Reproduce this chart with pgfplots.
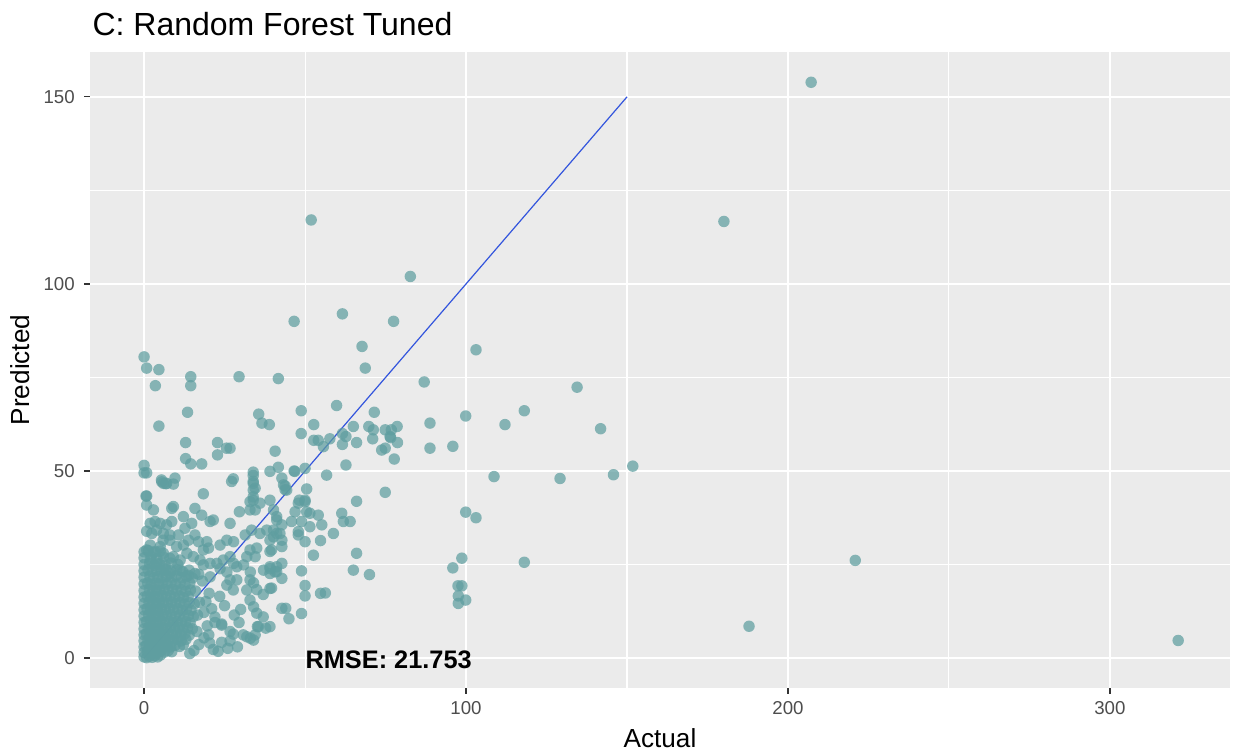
\documentclass[border=0pt]{standalone}
\usepackage{fontspec}
\setmainfont{Liberation Sans}
\usepackage{pgfplots}
\pgfplotsset{compat=1.18}
\definecolor{panelgray}{HTML}{EBEBEB}
\definecolor{cadet}{HTML}{5F9EA0}
\definecolor{labelgray}{HTML}{4D4D4D}
\definecolor{tickgray}{HTML}{333333}
\definecolor{refblue}{HTML}{3355DD}

\begin{document}
\begin{tikzpicture}
\path[use as bounding box] (0,0) rectangle (462.375pt,282.75pt);
\begin{axis}[
  at={(33.75pt,24.75pt)}, anchor=south west,
  scale only axis, width=427.5pt, height=238.5pt,
  xmin=-16.8, xmax=337.3, ymin=-8.0, ymax=162.0,
  xtick={0,100,200,300}, ytick={0,50,100,150},
  minor xtick={50,150,250}, minor ytick={25,75,125},
  grid=both,
  major grid style={white, line width=0.8pt},
  minor grid style={white, line width=0.4pt},
  axis lines*=left,
  axis line style={draw=none},
  axis background/.style={fill=panelgray},
  tick align=outside, major tick length=2.2pt, minor tick length=0pt,
  tick style={color=tickgray, line width=0.45pt},
  ticklabel style={font=\fontsize{7}{8}\selectfont, text=labelgray},
  xticklabel style={yshift=0.8pt},
  /pgf/number format/assume math mode=true,
]
% actual vs predicted
\addplot[only marks, color=cadet, mark=*, mark size=2.15pt,
  mark options={fill=cadet, fill opacity=0.72, draw opacity=0}] table {
x y
0 0.3
0.8 0.1
1.6 0.5
2.5 0.2
3.3 0.6
4.2 0.3
5.1 0.8
0 1.5
1.0 1.8
2.0 1.3
3.0 1.7
4.0 1.4
5.2 1.9
6.3 1.6
7.5 2.0
8.6 1.7
0 3.0
0.6 3.3
1.5 2.8
2.6 3.2
3.6 2.9
4.8 3.4
5.9 3.1
7.1 3.5
8.3 3.0
9.6 3.4
11.0 3.1
12.2 3.6
0 4.6
1.2 4.9
2.2 4.4
3.3 4.8
4.3 4.5
5.5 4.9
6.7 4.6
7.8 5.0
9.0 4.7
10.3 5.1
11.5 4.6
13.0 5.0
0 6.2
0.7 6.5
1.8 6.0
2.9 6.4
4.0 6.1
5.1 6.6
6.3 6.2
7.5 6.7
8.8 6.3
10.0 6.6
11.4 6.2
12.7 6.5
14.0 6.1
0 7.8
1.3 8.1
2.4 7.6
3.5 8.0
4.6 7.7
5.8 8.2
7.0 7.8
8.2 8.3
9.5 7.9
10.8 8.2
12.1 7.7
13.5 8.1
15.0 7.8
0 9.5
0.8 9.8
1.9 9.3
3.0 9.7
4.1 9.4
5.3 9.9
6.5 9.5
7.7 9.9
9.0 9.4
10.3 9.8
11.6 9.3
12.9 9.7
14.3 9.4
0 11.2
1.4 11.5
2.5 11.0
3.6 11.4
4.7 11.1
5.9 11.6
7.1 11.2
8.4 11.6
9.7 11.1
11.0 11.5
12.4 11.0
13.8 11.4
15.3 11.1
16.6 11.5
0 12.9
0.9 13.2
2.0 12.7
3.1 13.1
4.2 12.8
5.4 13.3
6.6 12.9
7.9 13.3
9.1 12.8
10.5 13.2
11.9 12.7
13.2 13.1
14.6 12.8
0 14.6
1.5 14.9
2.6 14.4
3.7 14.8
4.8 14.5
6.0 15.0
7.2 14.6
8.5 15.0
9.8 14.5
11.1 14.9
12.5 14.4
14.0 14.8
15.6 14.5
17.2 14.9
0 16.3
1.0 16.6
2.1 16.1
3.2 16.5
4.4 16.2
5.6 16.7
6.9 16.3
8.2 16.7
9.5 16.2
10.9 16.6
12.3 16.1
13.7 16.5
0 18.0
1.6 18.3
2.7 17.8
3.8 18.2
5.0 17.9
6.2 18.4
7.5 18.0
8.8 18.4
10.1 17.9
11.5 18.3
12.9 17.8
14.4 18.2
16.0 17.9
0 19.8
1.1 20.1
2.2 19.6
3.4 20.0
4.6 19.7
5.8 20.2
7.1 19.8
8.4 20.2
9.8 19.7
11.2 20.1
12.7 19.6
14.2 20.0
0 21.6
1.8 21.9
3.0 21.4
4.3 21.8
5.6 21.5
7.0 22.0
8.5 21.6
10.0 22.0
11.6 21.5
13.2 21.9
15.0 21.4
0 23.3
1.2 23.6
2.5 23.1
3.9 23.5
5.3 23.2
6.8 23.7
8.3 23.3
10.2 23.6
12.0 23.1
14.0 23.5
0 25.0
1.7 25.3
3.2 24.8
4.8 25.2
6.5 24.9
8.4 25.4
10.5 25.0
0 26.8
2.2 27.1
4.0 26.6
6.0 27.0
8.0 26.7
0 28.4
1.3 28.7
3.0 28.2
5.0 28.6
15.5 2.0
17.0 3.6
18.6 5.4
16.4 7.1
19.6 8.6
20.1 6.2
20.4 4.0
14.2 1.2
22.0 11.0
21.0 13.2
19.2 15.1
18.6 12.2
20.2 17.3
18.1 20.6
17.0 22.4
23.0 1.8
26.0 2.6
24.1 8.8
26.7 7.1
24.1 4.2
26.7 4.6
30.8 6.2
33.0 5.3
34.5 6.2
35.2 8.4
37.8 8.0
24.1 9.1
27.7 6.4
31.9 5.7
34.0 4.8
39.1 8.4
35.5 8.4
42.8 13.3
37.0 11.0
35.0 12.0
34.0 13.7
32.9 15.5
31.9 18.2
27.7 18.2
26.7 20.9
32.9 20.9
39.1 18.6
25.7 19.5
28.8 20.9
34.0 20.1
35.0 18.3
39.6 18.7
37.0 17.0
44.0 13.3
45.0 10.5
48.9 11.9
50.0 19.4
50.0 16.6
54.8 17.3
56.3 17.4
42.8 21.3
39.1 22.6
41.2 23.1
48.9 23.3
65.0 23.5
70.0 22.3
22.0 9.5
21.5 2.3
29.0 3.0
28.0 11.5
30.0 13.0
25.0 14.0
23.5 16.5
29.5 9.5
6.0 46.7
9.1 46.5
18.4 43.9
0.6 43.3
0.8 40.9
2.9 39.6
9.1 40.5
8.6 40.0
15.8 40.0
17.9 38.2
21.5 36.9
20.5 36.5
26.7 36.0
29.6 39.1
33.9 42.2
36.0 41.4
34.5 39.6
39.1 42.2
40.2 39.6
33.9 46.7
34.5 45.4
27.2 47.2
1.9 36.0
3.4 36.5
5.0 36.0
7.0 35.6
8.6 36.5
0.8 33.9
2.4 33.3
3.9 34.2
6.0 33.3
8.0 32.9
10.7 32.9
12.2 37.8
14.8 36.0
12.7 34.7
15.8 32.9
16.9 31.1
13.8 31.5
12.2 30.2
10.1 29.8
8.0 31.5
5.9 31.5
19.5 31.1
20.0 29.4
18.4 28.9
23.6 30.2
25.7 31.5
27.8 31.1
31.4 32.9
33.4 34.2
36.0 33.3
38.1 34.2
40.2 32.4
32.9 28.9
35.0 29.4
39.1 28.5
31.9 27.1
34.5 27.1
41.2 36.9
41.2 33.3
0.8 28.9
3.4 28.5
6.0 28.0
1.9 26.2
3.9 25.3
9.1 27.1
11.2 26.2
13.3 28.0
15.3 27.1
17.4 26.2
18.4 24.9
20.5 25.3
22.6 25.3
24.6 26.2
26.7 27.1
27.8 25.3
23.6 23.9
25.7 23.0
28.8 24.4
30.9 24.9
33.0 23.0
37.1 23.5
39.1 24.4
40.7 23.0
6.0 24.0
8.0 22.6
11.2 23.5
13.8 22.1
15.8 22.6
20.5 21.7
1.9 30.2
5.0 29.8
66.0 41.9
43.3 46.3
43.8 45.0
47.9 41.4
50.0 41.8
46.9 39.1
50.5 39.1
51.5 38.7
54.1 38.2
55.2 35.6
51.5 35.1
61.4 38.7
61.9 36.5
64.0 36.5
58.8 33.3
45.8 36.5
48.9 36.5
41.2 37.8
42.8 35.6
40.2 34.2
42.2 33.3
42.8 31.5
39.1 31.5
47.9 33.8
47.9 32.9
50.0 31.1
42.8 29.8
54.8 31.4
66.0 28.0
52.6 27.5
39.6 28.9
42.8 25.3
41.2 24.4
39.1 23.9
5.5 47.1
7.0 46.7
32.9 41.8
32.9 39.6
48.2 42.2
50.0 42.2
207.2 153.9
180.1 116.7
51.9 117.1
82.7 102.0
46.6 90.0
61.6 92.0
77.5 90.0
67.7 83.3
68.7 77.5
103.1 82.4
87.0 73.8
134.5 72.4
0 80.5
0.8 77.5
4.6 77.1
3.5 72.8
14.5 75.2
14.5 72.8
29.5 75.2
41.7 74.7
13.5 65.7
4.6 62.0
35.6 65.2
36.6 62.8
38.9 62.4
48.8 66.1
59.8 67.5
71.5 65.7
48.8 60.0
52.7 62.4
65.0 61.9
69.8 61.9
71.2 61.0
74.9 61.0
76.8 61.0
78.6 61.9
76.4 59.2
88.8 62.8
99.9 64.7
112.1 62.4
118.1 66.1
141.8 61.3
151.8 51.3
145.8 49.0
129.2 48.0
108.7 48.5
88.8 56.1
95.9 56.6
77.7 53.2
52.7 58.2
54.1 58.2
55.7 56.5
57.7 58.6
61.6 60.0
62.7 59.2
61.6 57.1
66.0 57.6
71.0 58.6
73.8 55.6
74.9 56.1
76.6 58.9
78.7 57.6
62.7 51.6
56.7 48.9
46.6 50.0
50.0 50.7
50.5 45.2
74.9 44.3
12.9 57.6
22.8 57.6
25.6 56.1
26.7 56.1
22.8 54.3
40.7 55.3
12.9 53.3
14.5 51.9
17.9 51.9
0 51.5
0 49.5
0.8 49.5
5.4 47.6
6.8 46.6
9.6 48.1
0.8 43.3
27.7 47.9
33.9 49.7
33.9 48.8
33.9 47.2
33.9 44.9
33.9 43.1
39.1 49.9
41.7 51.0
42.8 48.1
43.8 46.0
44.3 44.9
46.8 49.9
99.9 39.0
103.1 37.5
98.7 26.7
95.9 24.1
97.5 19.3
98.7 19.3
97.6 16.6
99.9 15.5
97.6 14.6
118.1 25.6
220.9 26.1
187.9 8.5
321.2 4.7
};
% identity line
\addplot[refblue, line width=0.45pt] coordinates {(0,0) (150,150)};
\node[anchor=west, font=\bfseries\fontsize{9.5}{11}\selectfont, inner sep=0pt]
  at (axis cs:50,-0.5) {RMSE: 21.753};
\end{axis}
\node[anchor=base west, font=\fontsize{12}{14}\selectfont, inner sep=0pt]
  at (34.5pt,269.6pt) {C: Random Forest Tuned};
\node[anchor=base, font=\fontsize{9.8}{11}\selectfont, inner sep=0pt]
  at (247.5pt,2.3pt) {Actual};
\node[anchor=base, rotate=90, font=\fontsize{9.8}{11}\selectfont, inner sep=0pt]
  at (11.2pt,144pt) {Predicted};
\end{tikzpicture}
\end{document}
